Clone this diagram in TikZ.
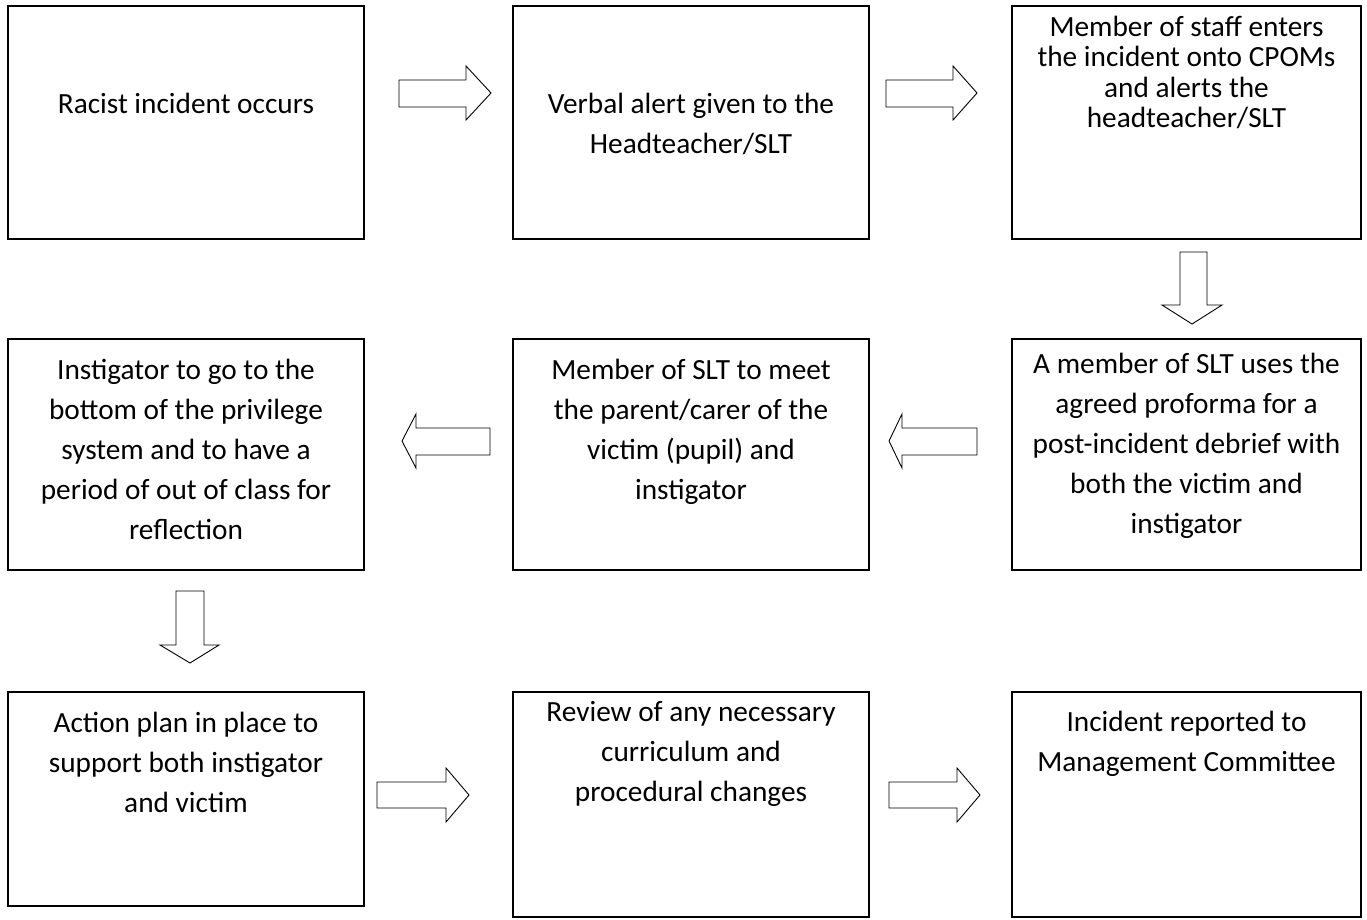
\documentclass[tikz,border=0pt]{standalone}
\usepackage{fontspec}
\setmainfont{Carlito}
\begin{document}
\begin{tikzpicture}[x=1pt,y=-1pt,
  box/.style={draw, line width=1.3pt, inner sep=0pt},
  txt/.style={align=center, anchor=base, inner sep=0pt, font=\fontsize{29.3}{40}\selectfont},
  tight/.style={font=\fontsize{29.3}{30.5}\selectfont},
  blockarrow/.style={draw, line width=0.9pt, line join=miter, fill=white}]
\useasboundingbox (0,0) rectangle (1367,919);
% boxes
\node[box, minimum width=356pt, minimum height=233pt] (b1) at (186,122.5) {};
\node[box, minimum width=356pt, minimum height=233pt] (b2) at (691,122.5) {};
\node[box, minimum width=349pt, minimum height=233pt] (b3) at (1186.5,122.5) {};
\node[box, minimum width=356pt, minimum height=231pt] (b4) at (186,454.5) {};
\node[box, minimum width=356pt, minimum height=231pt] (b5) at (691,454.5) {};
\node[box, minimum width=349pt, minimum height=231pt] (b6) at (1186.5,454.5) {};
\node[box, minimum width=356pt, minimum height=214pt] (b7) at (186,799) {};
\node[box, minimum width=356pt, minimum height=225pt] (b8) at (691,804.5) {};
\node[box, minimum width=349pt, minimum height=225pt] (b9) at (1186.5,804.5) {};
% texts (anchored at the baseline of the last line)
\node[txt] (t1) at (186,113) {Racist incident occurs};
\node[txt] (t2) at (691,153) {Verbal alert given to the\\Headteacher/SLT};
\node[txt, tight] (t3) at (1186.5,127.5) {Member of staff enters\\the incident onto CPOMs\\and alerts the\\headteacher/SLT};
\node[txt] (t4) at (186,539) {Instigator to go to the\\bottom of the privilege\\system and to have a\\period of out of class for\\reflection};
\node[txt] (t5) at (691,499) {Member of SLT to meet\\the parent/carer of the\\victim (pupil) and\\instigator};
\node[txt] (t6) at (1186.5,533) {A member of SLT uses the\\agreed proforma for a\\post-incident debrief with\\both the victim and\\instigator};
\node[txt] (t7) at (186,812) {Action plan in place to\\support both instigator\\and victim};
\node[txt] (t8) at (691,801) {Review of any necessary\\curriculum and\\procedural changes};
\node[txt] (t9) at (1186.5,771) {Incident reported to\\Management Committee};
% block arrows
\draw[blockarrow] (399,80) -- (466,80) -- (466,66) -- (491,93) -- (466,120) -- (466,107) -- (399,107) -- cycle;
\draw[blockarrow] (886,80) -- (953,80) -- (953,66) -- (977,93) -- (953,120) -- (953,107) -- (886,107) -- cycle;
\draw[blockarrow] (1180,252) -- (1207,252) -- (1207,305) -- (1222,305) -- (1192,324) -- (1162,305) -- (1180,305) -- cycle;
\draw[blockarrow] (977,428) -- (902,428) -- (902,414) -- (889,441) -- (902,468) -- (902,455) -- (977,455) -- cycle;
\draw[blockarrow] (490,428) -- (416,428) -- (416,414) -- (402,441) -- (416,468) -- (416,455) -- (490,455) -- cycle;
\draw[blockarrow] (176,591) -- (204,591) -- (204,645) -- (219,645) -- (190,663) -- (160,645) -- (176,645) -- cycle;
\draw[blockarrow] (377,782) -- (446,782) -- (446,768) -- (469,795) -- (446,822) -- (446,808) -- (377,808) -- cycle;
\draw[blockarrow] (889,782) -- (957,782) -- (957,768) -- (980,795) -- (957,822) -- (957,808) -- (889,808) -- cycle;
\end{tikzpicture}
\end{document}
